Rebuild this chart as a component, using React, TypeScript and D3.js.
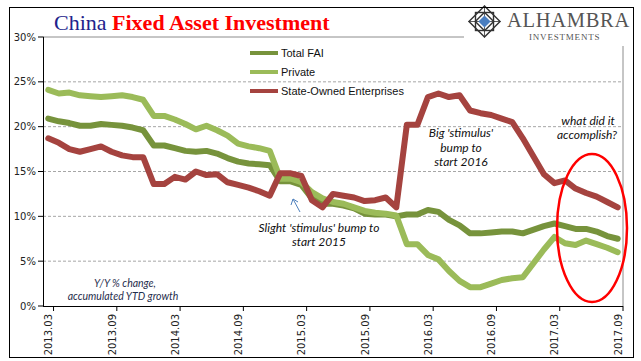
import React from 'react';
import * as d3 from 'd3';

const months = [
  '2013.03','2013.04','2013.05','2013.06','2013.07','2013.08','2013.09','2013.10','2013.11','2013.12',
  '2014.01','2014.02','2014.03','2014.04','2014.05','2014.06','2014.07','2014.08','2014.09','2014.10','2014.11','2014.12',
  '2015.01','2015.02','2015.03','2015.04','2015.05','2015.06','2015.07','2015.08','2015.09','2015.10','2015.11','2015.12',
  '2016.01','2016.02','2016.03','2016.04','2016.05','2016.06','2016.07','2016.08','2016.09','2016.10','2016.11','2016.12',
  '2017.01','2017.02','2017.03','2017.04','2017.05','2017.06','2017.07','2017.08','2017.09',
];

const xTickLabels = ['2013.03','2013.09','2014.03','2014.09','2015.03','2015.09','2016.03','2016.09','2017.03','2017.09'];
const yTicks = [0, 5, 10, 15, 20, 25, 30];

const totalFAI: (number | null)[] = [
  20.9, 20.6, 20.4, 20.1, 20.1, 20.3, 20.2, 20.1, 19.9, 19.6,
  17.9, 17.9, 17.6, 17.3, 17.2, 17.3, 17.0, 16.5, 16.1, 15.9, 15.8, 15.7,
  13.9, 13.9, 13.5, 12.0, 11.4, 11.4, 11.2, 10.9, 10.3, 10.2, 10.2, 10.0,
  10.2, 10.2, 10.7, 10.5, 9.6, 9.0, 8.1, 8.1, 8.2, 8.3, 8.3, 8.1,
  null, 8.9, 9.2, 8.9, 8.6, 8.6, 8.3, 7.8, 7.5,
];

const privateFAI: (number | null)[] = [
  24.1, 23.7, 23.8, 23.5, 23.4, 23.3, 23.4, 23.5, 23.3, 23.0,
  21.2, 21.2, 20.8, 20.3, 19.7, 20.1, 19.6, 19.0, 18.1, 17.8, 17.6, 17.3,
  14.2, 14.2, 13.8, 12.7, 12.0, 11.6, 11.4, 11.0, 10.6, 10.4, 10.3, 10.1,
  6.9, 6.9, 5.7, 5.2, 3.9, 2.8, 2.1, 2.1, 2.5, 2.9, 3.1, 3.2,
  null, 6.3, 7.7, 7.0, 6.8, 7.3, 6.9, 6.5, 6.0,
];

const soeFAI: (number | null)[] = [
  18.7, 18.2, 17.5, 17.2, 17.5, 17.8, 17.2, 16.8, 16.6, 16.6,
  13.6, 13.6, 14.4, 14.1, 15.0, 14.6, 14.7, 13.8, 13.5, 13.2, 12.8, 12.3,
  14.8, 14.8, 14.5, 11.8, 11.0, 12.5, 12.3, 12.1, 11.7, 11.8, 12.1, 11.0,
  20.2, 20.2, 23.3, 23.7, 23.3, 23.5, 21.8, 21.5, 21.3, 20.9, 20.5, 18.7,
  null, 14.7, 13.7, 14.0, 13.1, 12.6, 12.2, 11.6, 11.0,
];

const seriesNames = ['Total FAI', 'Private', 'State-Owned Enterprises'];
const seriesColors = ['#77933C', '#9BBB59', '#A5433F'];
const seriesValues = [totalFAI, privateFAI, soeFAI];

export default function App() {
  const W = 641, H = 361;
  const x = d3.scaleBand<string>().domain(months).range([43, 623]).padding(0);
  const y = d3.scaleLinear().domain([0, 30]).range([306, 37]);
  const bw = x.bandwidth();
  const cx = (m: string) => (x(m) as number) + bw / 2;
  const line = d3.line<[string, number]>().x(d => cx(d[0])).y(d => y(d[1]));

  const axisFont = "'DejaVu Sans', sans-serif";
  const annFont = "Lato, 'Open Sans', sans-serif";

  return (
    <svg width={W} height={H} style={{ position: 'absolute', left: 0, top: 0, display: 'block', background: '#fff' }}>
      <rect x={0} y={0} width={W} height={H} fill="#fff" />
      {/* gridlines */}
      {yTicks.filter(t => t > 0 && t < 30).map(t => (
        <line key={t} x1={43} x2={623} y1={y(t)} y2={y(t)} stroke="#A6A6A6" strokeWidth={1} strokeDasharray="3,2" />
      ))}
      {/* plot border top & right */}
      <line x1={43} x2={623} y1={y(30)} y2={y(30)} stroke="#8C8C8C" strokeWidth={1} />
      <line x1={623} x2={623} y1={y(30)} y2={306} stroke="#8C8C8C" strokeWidth={1} />

      {/* y axis */}
      <line x1={43.5} x2={43.5} y1={y(30)} y2={306} stroke="#000" strokeWidth={1} />
      {yTicks.map(t => (
        <g key={t}>
          <line x1={38} x2={43.5} y1={y(t)} y2={y(t)} stroke="#000" strokeWidth={1} />
          <text x={36} y={y(t)} dy="0.35em" textAnchor="end" fontFamily={axisFont} fontSize={10} fill="#222">{t}%</text>
        </g>
      ))}
      {/* x axis */}
      <line x1={43} x2={623} y1={306.5} y2={306.5} stroke="#000" strokeWidth={1} />
      {xTickLabels.map(lbl => {
        const i = months.indexOf(lbl);
        const next = months[i + 1];
        const tx = next ? (x(next) as number) : 623;
        return (
          <g key={lbl}>
            <line x1={tx} x2={tx} y1={306} y2={311} stroke="#000" strokeWidth={1} />
            <text transform={`translate(${cx(lbl) + 0.5},314) rotate(-90)`} textAnchor="end" dy="0.35em"
              fontFamily={axisFont} fontSize={10} fill="#222">{lbl}</text>
          </g>
        );
      })}

      {/* series */}
      {seriesValues.map((vals, si) => {
        const pts = months.map((m, i) => [m, vals[i]] as [string, number | null])
          .filter(d => d[1] !== null) as [string, number][];
        return (
          <path key={si} d={line(pts) || ''} fill="none" stroke={seriesColors[si]} strokeWidth={6}
            strokeLinejoin="round" strokeLinecap="round" />
        );
      })}

      {/* legend */}
      {seriesNames.map((n, i) => (
        <g key={n} transform={`translate(250,${53 + i * 19})`}>
          <line x1={0} x2={28} y1={0} y2={0} stroke={seriesColors[i]} strokeWidth={4} />
          <text x={31} y={0} dy="0.35em" fontFamily="'Liberation Sans', Arial, sans-serif" fontSize={11} fill="#111">{n}</text>
        </g>
      ))}

      {/* annotations */}
      <g fontFamily={annFont} fontStyle="italic" fill="#111" fontSize={12} textAnchor="middle">
        <text x={319} y={232}>Slight 'stimulus' bump to</text>
        <text x={319} y={246}>start 2015</text>
        <text x={461} y={137}>Big 'stimulus'</text>
        <text x={461} y={152}>bump to</text>
        <text x={461} y={166}>start 2016</text>
        <text x={588} y={125}>what did it</text>
        <text x={587} y={139}>accomplish?</text>
      </g>
      <g fontFamily={annFont} fontStyle="italic" fill="#1F2D4D" fontSize={10.5} textAnchor="middle">
        <text x={125} y={287}>Y/Y % change,</text>
        <text x={123} y={300}>accumulated YTD growth</text>
      </g>
      {/* arrow */}
      <g stroke="#4F81BD" strokeWidth={1} fill="none">
        <line x1={300} y1={212} x2={293} y2={199} />
        <polyline points="291,205 293,199 298,202" />
      </g>
      {/* red ellipse */}
      <ellipse cx={592} cy={228} rx={35} ry={74} fill="none" stroke="#FF0000" strokeWidth={2.5} />

      {/* logo area */}
      <rect x={464} y={0} width={177} height={46} fill="#fff" />
      <g transform="translate(484.5,21.5)" fill="none" stroke="#333" strokeWidth={1.4}>
        <rect x={-11} y={-11} width={22} height={22} transform="rotate(45)" />
        <rect x={-9} y={-9} width={18} height={18} />
        <rect x={-6.5} y={-6.5} width={13} height={13} transform="rotate(45)" />
        <line x1={-16} y1={0} x2={16} y2={0} strokeWidth={0.8} />
        <line x1={0} y1={-16} x2={0} y2={16} strokeWidth={0.8} />
        <rect x={-3.6} y={-3.6} width={7.2} height={7.2} transform="rotate(45)" fill="#4A7EC0" stroke="#4A7EC0" />
      </g>
      <text x={507} y={27} fontFamily="'Liberation Serif', 'Times New Roman', serif" fontSize={20.5} fill="#555" letterSpacing={0.7}>ALHAMBRA</text>
      <text x={529} y={39.5} fontFamily="'Liberation Serif', 'Times New Roman', serif" fontSize={9} fill="#555" letterSpacing={0.8}>INVESTMENTS</text>

      {/* title */}
      <text x={54} y={30} fontFamily="'Liberation Serif', 'Times New Roman', serif" fontSize={22}>
        <tspan fill="#22228B">China </tspan>
        <tspan fill="#FF0000" fontWeight="bold">Fixed Asset Investment</tspan>
      </text>

      {/* outer frame */}
      <rect x={9.5} y={7.5} width={624} height={350} fill="none" stroke="#000" strokeWidth={1} />
    </svg>
  );
}
